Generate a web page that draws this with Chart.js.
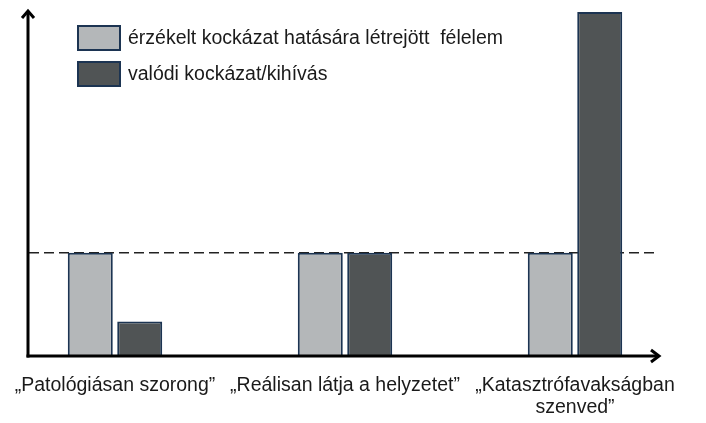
<!DOCTYPE html>
<html>
<head>
<meta charset="utf-8">
<script src="https://cdn.jsdelivr.net/npm/chart.js@4.4.0/dist/chart.umd.min.js"></script>
<style>
html,body{margin:0;padding:0;background:#fff;}
#wrap{width:706px;height:423px;position:relative;}
</style>
</head>
<body>
<div id="wrap"><canvas id="c" width="706" height="423"></canvas></div>
<script>
const categories = [
  ['„Patológiásan szorong”'],
  ['„Reálisan látja a helyzetet”'],
  ['„Katasztrófavakságban', 'szenved”']
];
const seriesNames = ['érzékelt kockázat hatására létrejött  félelem', 'valódi kockázat/kihívás'];
const perceivedFear = [3, 3, 3];
const realRisk = [1, 3, 10];
const referenceLevel = 3;
const yMax = 10;

const FONT = '"Liberation Sans", Arial, sans-serif';
const fills = ['#b4b7b9', '#505455'];
const border = '#1c3452';

const axesPlugin = {
  id: 'axesPlugin',
  beforeDatasetsDraw(chart) {
    const ctx = chart.ctx;
    const y = chart.scales.y.getPixelForValue(referenceLevel);
    ctx.save();
    ctx.strokeStyle = '#222';
    ctx.lineWidth = 1.5;
    ctx.setLineDash([10, 5]);
    ctx.beginPath();
    ctx.moveTo(29, y);
    ctx.lineTo(656, y);
    ctx.stroke();
    ctx.restore();
  },
  afterDraw(chart) {
    const ctx = chart.ctx;
    const y0 = chart.scales.y.getPixelForValue(0);
    const ax = 28;
    ctx.save();
    ctx.strokeStyle = '#000';
    ctx.lineWidth = 3;
    ctx.lineCap = 'butt';
    // y axis
    ctx.beginPath();
    ctx.moveTo(ax, y0 + 1.5);
    ctx.lineTo(ax, 11);
    ctx.stroke();
    ctx.beginPath();
    ctx.moveTo(ax - 6, 18);
    ctx.lineTo(ax, 11);
    ctx.lineTo(ax + 6, 18);
    ctx.stroke();
    // x axis
    ctx.beginPath();
    ctx.moveTo(ax - 1.5, y0);
    ctx.lineTo(659, y0);
    ctx.stroke();
    ctx.beginPath();
    ctx.moveTo(651, y0 - 6);
    ctx.lineTo(659, y0);
    ctx.lineTo(651, y0 + 6);
    ctx.stroke();
    // legend
    ctx.font = '19.5px ' + FONT;
    ctx.textBaseline = 'alphabetic';
    chart.data.datasets.forEach((ds, i) => {
      const top = 26 + i * 36;
      ctx.fillStyle = ds.backgroundColor;
      ctx.fillRect(78, top, 42, 24);
      ctx.strokeStyle = border;
      ctx.lineWidth = 2;
      ctx.strokeRect(78, top, 42, 24);
      ctx.fillStyle = '#1a1a1a';
      ctx.fillText(ds.label, 128, top + 18);
    });
    ctx.restore();
  }
};

new Chart(document.getElementById('c'), {
  type: 'bar',
  data: {
    labels: categories,
    datasets: [
      { label: seriesNames[0], data: perceivedFear, backgroundColor: fills[0], borderColor: border, borderWidth: 2 },
      { label: seriesNames[1], data: realRisk, backgroundColor: fills[1], borderColor: border, borderWidth: 2 }
    ]
  },
  options: {
    responsive: false,
    animation: false,
    devicePixelRatio: 1,
    layout: { padding: { left: 0, right: 16, top: 12, bottom: 0 } },
    categoryPercentage: 0.43,
    barPercentage: 0.91,
    plugins: { legend: { display: false }, tooltip: { enabled: false } },
    scales: {
      x: {
        grid: { display: false, drawTicks: false },
        border: { display: false },
        afterFit(scale) {
          scale.height = 67;
          scale.paddingLeft = 0;
          scale.paddingRight = 0;
        },
        ticks: {
          color: '#1a1a1a',
          font: { family: FONT, size: 19.5, lineHeight: 1.13 },
          padding: 19,
          maxRotation: 0,
          autoSkip: false
        }
      },
      y: {
        display: false,
        min: 0,
        max: yMax
      }
    }
  },
  plugins: [axesPlugin]
});
</script>
</body>
</html>
